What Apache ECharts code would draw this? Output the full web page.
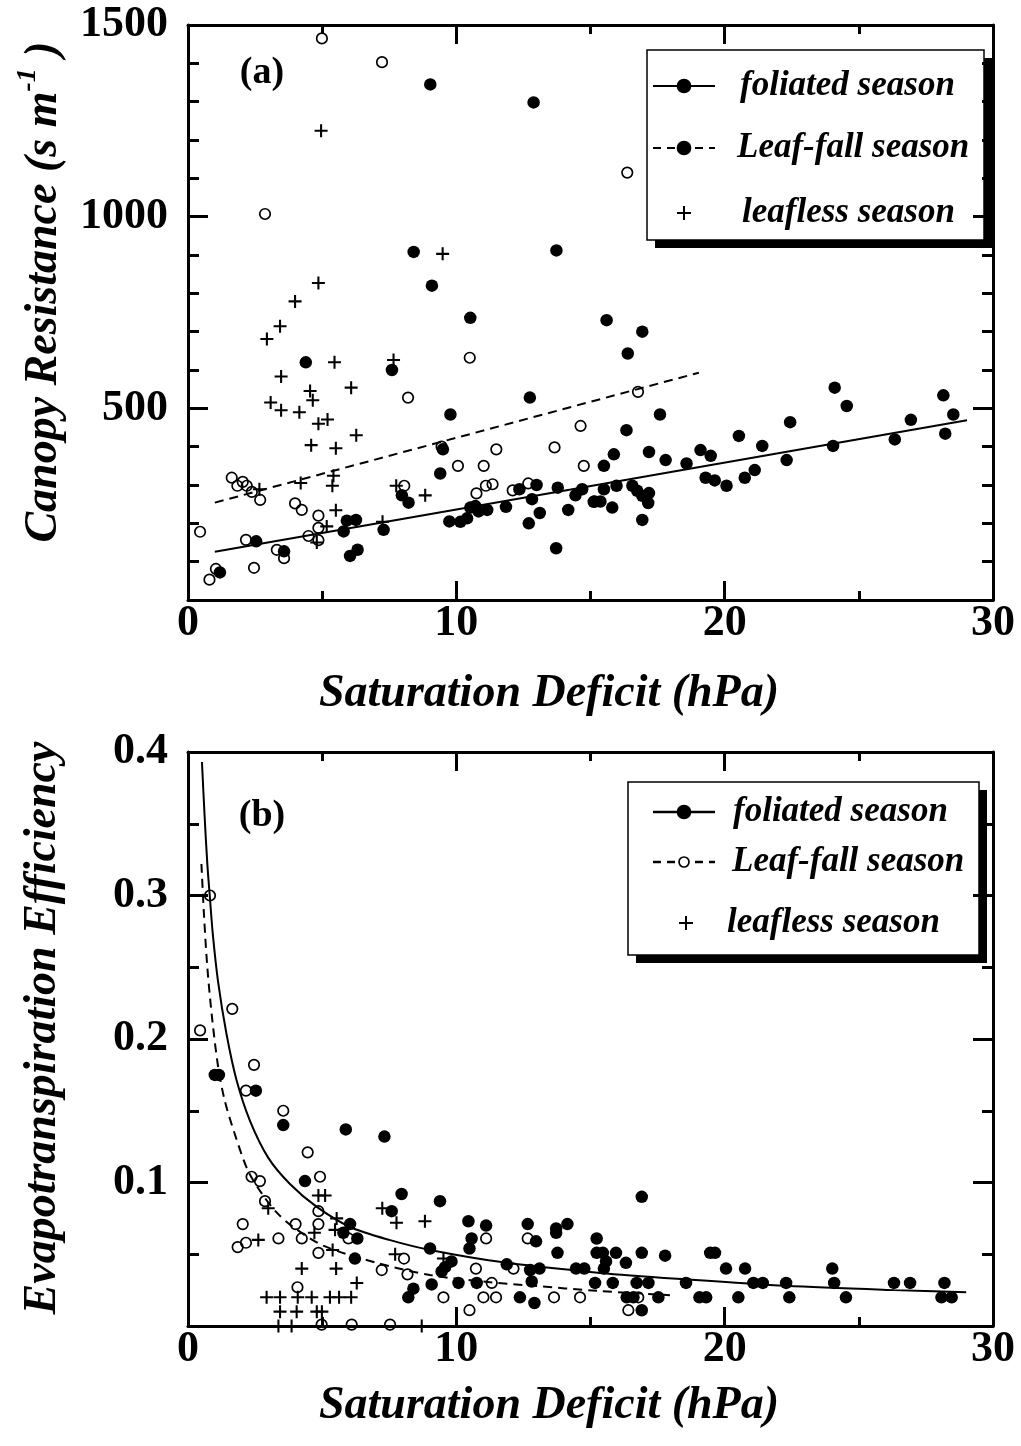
<!DOCTYPE html>
<html>
<head>
<meta charset="utf-8">
<script src="https://cdn.jsdelivr.net/npm/echarts@6/dist/echarts.min.js"></script>
<style>
html,body{margin:0;padding:0;background:#fff;}
#chart{width:1021px;height:1446px;}
</style>
</head>
<body>
<div id="chart"></div>
<script>
// ---------- Panel (a): Canopy resistance vs saturation deficit ----------
var foliatedA = [
 [9.03,1345],[8.41,908],[9.09,820],[10.52,736],[12.88,1298],[13.73,912],[15.60,730],[16.93,700],[16.39,643],
 [4.39,620],[7.60,600],[12.74,528],[9.78,484],[9.50,393],[9.40,330],[7.97,273],[8.22,254],[12.35,289],
 [12.99,300],[13.78,293],[14.69,289],[14.44,273],[12.82,263],[15.12,256],[10.71,245],[10.52,241],[11.15,235],
 [11.85,243],[14.17,235],[13.11,227],[10.83,231],[5.92,207],[6.26,209],[9.74,205],[10.15,204],[10.40,213],
 [12.70,200],[5.80,179],[7.29,183],[2.54,153],[3.58,127],[6.04,115],[6.32,131],[13.72,135],[1.19,72],
 [17.59,484],[16.34,443],[15.87,380],[15.50,350],[17.18,386],[17.80,365],[18.58,356],[19.10,391],[19.48,376],
 [20.53,428],[21.40,402],[22.44,464],[22.31,365],[19.29,319],[19.63,312],[20.07,298],[20.75,319],[21.12,339],
 [24.10,554],[24.55,506],[24.04,402],[26.34,419],[26.94,470],[28.15,534],[28.52,484],[28.22,434],[15.50,289],
 [15.97,298],[15.15,257],[15.37,257],[15.81,241],[16.56,298],[16.74,285],[16.93,272],[17.18,279],[17.15,253],
 [16.93,209]
];
var leafFallA = [
 [4.99,1465],[7.23,1403],[2.87,1007],[16.37,1115],[10.50,632],[8.20,528],[16.77,543],[14.63,454],[11.49,393],
 [13.66,398],[10.06,350],[11.02,350],[14.75,350],[1.63,319],[2.04,308],[1.84,298],[2.19,298],[2.38,282],
 [2.69,261],[8.06,298],[11.10,298],[11.35,302],[10.75,278],[12.10,286],[12.68,304],[3.99,252],[4.24,235],
 [4.86,220],[4.86,188],[4.49,167],[4.86,156],[0.45,178],[2.16,157],[3.31,131],[3.58,109],[2.46,84],
 [1.04,81],[0.80,53],[9.45,400]
];
var leaflessA = [
 [4.96,1224],[9.49,903],[4.86,827],[3.99,779],[3.43,714],[2.94,681],[5.46,620],[7.66,626],[3.47,583],
 [6.08,554],[4.55,545],[4.65,521],[3.08,515],[3.47,495],[4.15,490],[5.20,471],[4.86,460],[6.27,430],
 [4.59,404],[5.51,396],[5.42,324],[2.66,289],[4.20,305],[5.38,298],[7.76,298],[8.84,273],[5.51,234],
 [7.25,204],[5.17,192],[4.80,150]
];
var foliatedFitA = [[1.0,126],[29.03,469]];
var leafFallFitA = [[1.0,254],[19.04,593]];

// ---------- Panel (b): Evapotranspiration efficiency vs saturation deficit ----------
var foliatedB = [
 [1.0,0.175],[1.15,0.175],[2.53,0.164],[3.55,0.140],[5.88,0.137],[7.32,0.132],[4.36,0.101],[7.96,0.092],
 [9.39,0.087],[7.59,0.080],[6.04,0.071],[10.45,0.073],[11.11,0.070],[12.66,0.071],[13.72,0.068],[14.14,0.071],
 [5.79,0.065],[13.72,0.065],[6.31,0.061],[10.57,0.061],[12.97,0.059],[15.23,0.061],[10.49,0.054],[9.02,0.054],
 [13.77,0.051],[15.23,0.051],[6.22,0.047],[9.82,0.045],[9.58,0.041],[9.45,0.038],[11.88,0.043],[12.75,0.039],
 [13.10,0.040],[14.46,0.040],[14.77,0.040],[9.08,0.029],[10.08,0.030],[10.76,0.030],[12.81,0.031],[15.17,0.030],
 [8.40,0.026],[8.21,0.020],[12.37,0.020],[12.91,0.016],
 [16.91,0.090],[15.46,0.051],[15.95,0.051],[16.91,0.051],[17.78,0.049],[19.46,0.051],[19.64,0.051],[15.58,0.045],
 [16.32,0.044],[15.50,0.040],[20.05,0.040],[20.76,0.040],[24.01,0.040],[15.83,0.030],[16.72,0.030],[17.16,0.030],
 [18.56,0.030],[21.07,0.030],[21.42,0.030],[22.29,0.030],[24.08,0.030],[26.31,0.030],[26.91,0.030],[28.19,0.030],
 [16.35,0.020],[16.60,0.020],[17.53,0.020],[19.06,0.020],[19.31,0.020],[20.51,0.020],[22.41,0.020],[24.52,0.020],
 [28.08,0.020],[28.46,0.020],[16.91,0.011]
];
var leafFallB = [
 [0.82,0.300],[1.65,0.221],[0.45,0.206],[2.46,0.182],[2.16,0.164],[3.55,0.150],[4.46,0.121],[4.92,0.104],
 [2.37,0.104],[2.68,0.101],[2.87,0.087],[4.86,0.080],[2.04,0.071],[4.01,0.071],[4.86,0.071],[1.85,0.055],
 [2.16,0.058],[3.37,0.061],[4.24,0.061],[5.98,0.061],[11.11,0.061],[12.66,0.061],[4.86,0.051],[8.05,0.047],
 [10.73,0.040],[12.13,0.040],[7.22,0.039],[8.18,0.036],[11.32,0.030],[4.08,0.027],[9.52,0.020],[11.01,0.020],
 [11.48,0.020],[13.64,0.020],[14.61,0.020],[10.49,0.011],[4.98,0.001],[6.10,0.001],[7.53,0.001],[16.78,0.020],
 [16.41,0.011]
];
var leaflessB = [
 [2.99,0.082],[4.86,0.091],[5.11,0.091],[7.24,0.082],[7.77,0.072],[8.83,0.073],[5.54,0.075],[5.48,0.067],
 [4.71,0.065],[2.62,0.060],[5.39,0.053],[7.72,0.050],[9.52,0.047],[4.24,0.040],[5.52,0.040],[6.29,0.030],
 [2.93,0.020],[3.43,0.020],[4.09,0.020],[4.61,0.020],[5.29,0.020],[5.63,0.020],[6.08,0.020],[3.43,0.010],
 [4.05,0.010],[4.80,0.010],[4.99,0.010],[3.37,0.0],[3.86,0.0],[8.71,0.0]
];
var foliatedFitB = [[0.52,0.393],[0.62,0.355],[0.72,0.322],[0.81,0.300],[0.93,0.272],[1.12,0.240],[1.43,0.204],
 [1.80,0.172],[2.31,0.143],[3.00,0.117],[3.80,0.099],[4.80,0.083],[6.04,0.069],[7.50,0.060],[9.02,0.053],
 [11.88,0.044],[15.36,0.037],[18.56,0.0325],[22.29,0.0280],[26.31,0.0250],[29.0,0.0235]];
var leafFallFitB = [[0.50,0.322],[0.60,0.285],[0.72,0.250],[0.89,0.216],[1.12,0.181],[1.37,0.157],[1.74,0.134],
 [2.24,0.108],[2.80,0.091],[3.31,0.079],[3.92,0.069],[5.04,0.056],[7.03,0.044],[9.02,0.0355],[11.0,0.031],
 [12.88,0.0280],[15.23,0.0245],[17.96,0.0215]];

// ---------- tick / label settings ----------
var xTicks = {min:0, max:30, interval:10};
var yTicksA = {min:0, max:1500, interval:500, minorSplit:5};
var yTicksB = {min:0, max:0.4, interval:0.1, minorSplit:2};
var legendNames = ['foliated season','Leaf-fall season','leafless season'];

var SERIF = '"Liberation Serif","Times New Roman",serif';
var axisLineStyle = {color:'#000', width:3};

function xAxis(grid, pos, labels) {
  return {
    type:'value', gridIndex:grid, position:pos, min:xTicks.min, max:xTicks.max, interval:xTicks.interval,
    axisLine:{show:true, onZero:false, lineStyle:axisLineStyle},
    axisTick:{show:true, inside:true, length:19, lineStyle:{color:'#000', width:3}},
    minorTick:{show:true, splitNumber:2, length:9, lineStyle:{color:'#000', width:3}},
    splitLine:{show:false}, minorSplitLine:{show:false},
    axisLabel:{show:labels, color:'#000', fontFamily:SERIF, fontWeight:'bold', fontSize:44, margin:2}
  };
}
function yAxis(grid, pos, labels, t, dec) {
  return {
    type:'value', gridIndex:grid, position:pos, min:t.min, max:t.max, interval:t.interval,
    axisLine:{show:true, onZero:false, lineStyle:axisLineStyle},
    axisTick:{show:true, inside:true, length:20, lineStyle:{color:'#000', width:3}},
    minorTick:{show:true, splitNumber:t.minorSplit, length:11, lineStyle:{color:'#000', width:3}},
    splitLine:{show:false}, minorSplitLine:{show:false},
    axisLabel:{show:labels, color:'#000', fontFamily:SERIF, fontWeight:'bold', fontSize:44, margin:20,
      formatter:function(v){ return v === 0 ? '' : v.toFixed(dec); }}
  };
}

var PLUS = 'path://M4.2,0 L5.8,0 L5.8,4.2 L10,4.2 L10,5.8 L5.8,5.8 L5.8,10 L4.2,10 L4.2,5.8 L0,5.8 L0,4.2 L4.2,4.2 Z';

function filled(name, data, xi, yi) {
  return {name:name, type:'scatter', xAxisIndex:xi, yAxisIndex:yi, data:data, symbol:'circle', symbolSize:12.5,
    itemStyle:{color:'#000', opacity:1}, z:3};
}
function open(name, data, xi, yi) {
  return {name:name, type:'scatter', xAxisIndex:xi, yAxisIndex:yi, data:data, symbol:'circle', symbolSize:10.5,
    itemStyle:{color:'rgba(0,0,0,0)', borderColor:'#000', borderWidth:1.7, opacity:1}, z:4};
}
function plus(name, data, xi, yi) {
  return {name:name, type:'scatter', xAxisIndex:xi, yAxisIndex:yi, data:data, symbol:PLUS, symbolSize:13,
    itemStyle:{color:'#000', opacity:1}, z:4};
}
function fit(name, data, xi, yi, dashed, smooth) {
  return {name:name, type:'line', xAxisIndex:xi, yAxisIndex:yi, data:data, showSymbol:false, symbol:'none',
    smooth:smooth ? 0.3 : false, clip:true,
    lineStyle:{color:'#000', width:2, type: dashed ? [9,6] : 'solid'}, z:2};
}

// ---------- legend / text graphics ----------
function legendBox(x, y, w, h, entries, lineW, secondOpen) {
  var els = [
    {type:'rect', shape:{x:x+8, y:y+8, width:w, height:h}, style:{fill:'#000'}},
    {type:'rect', shape:{x:x, y:y, width:w, height:h}, style:{fill:'#fff', stroke:'#000', lineWidth:1.5}}
  ];
  entries.forEach(function(e, i){
    if (i < 2) {
      els.push({type:'line', shape:{x1:e.lx, y1:e.ly, x2:e.lx+62, y2:e.ly},
        style:{stroke:'#000', lineWidth:lineW, lineDash: i===1 ? [8,6] : null}});
      var isOpen = (i===1 && secondOpen);
      els.push({type:'circle', shape:{cx:e.lx+31, cy:e.ly, r: isOpen ? 5 : 6.5},
        style:{fill: isOpen ? '#fff' : '#000', stroke:'#000', lineWidth:1.7}});
    } else {
      els.push({type:'line', shape:{x1:e.lx-7, y1:e.ly, x2:e.lx+7, y2:e.ly}, style:{stroke:'#000', lineWidth:2}});
      els.push({type:'line', shape:{x1:e.lx, y1:e.ly-7, x2:e.lx, y2:e.ly+7}, style:{stroke:'#000', lineWidth:2}});
    }
    els.push({type:'text', x:e.tx, y:e.ly, style:{text:legendNames[i], fill:'#000',
      font:'italic bold 35px ' + SERIF, textAlign:'left', textVerticalAlign:'middle', align:'left', verticalAlign:'middle'}});
  });
  return {type:'group', z:100, children:els};
}

function label(text, x, y, size, italic, rot) {
  return {type:'text', x:x, y:y, rotation:rot||0, z:100, style:{text:text, fill:'#000',
    font:(italic?'italic ':'') + 'bold ' + size + 'px ' + SERIF,
    textAlign:'center', textVerticalAlign:'middle', align:'center', verticalAlign:'middle'}};
}

var canopyTitle = {type:'text', x:44, y:292, rotation:Math.PI/2, z:100, style:{
  text:'{m|Canopy Resistance (s m}{s|-1}{m| )}', fill:'#000',
  textAlign:'center', textVerticalAlign:'middle', align:'center', verticalAlign:'middle',
  rich:{
    m:{font:'italic bold 46px ' + SERIF, fill:'#000', lineHeight:60, verticalAlign:'middle'},
    s:{font:'italic bold 28px ' + SERIF, fill:'#000', lineHeight:30, verticalAlign:'top'}
  }}};

var chart = echarts.init(document.getElementById('chart'), null, {renderer:'canvas'});
chart.setOption({
  animation:false,
  backgroundColor:'#fff',
  grid:[
    {left:188, top:25, width:805, height:575},
    {left:188, top:752, width:805, height:574}
  ],
  xAxis:[ xAxis(0,'bottom',true), xAxis(0,'top',false), xAxis(1,'bottom',true), xAxis(1,'top',false) ],
  yAxis:[ yAxis(0,'left',true,yTicksA,0), yAxis(0,'right',false,yTicksA,0),
          yAxis(1,'left',true,yTicksB,1), yAxis(1,'right',false,yTicksB,1) ],
  series:[
    fit(legendNames[0], foliatedFitA, 0, 0, false, false),
    fit(legendNames[1], leafFallFitA, 0, 0, true, false),
    open(legendNames[1], leafFallA, 0, 0),
    filled(legendNames[0], foliatedA, 0, 0),
    plus(legendNames[2], leaflessA, 0, 0),
    fit(legendNames[0], foliatedFitB, 2, 2, false, true),
    fit(legendNames[1], leafFallFitB, 2, 2, true, true),
    open(legendNames[1], leafFallB, 2, 2),
    filled(legendNames[0], foliatedB, 2, 2),
    plus(legendNames[2], leaflessB, 2, 2)
  ],
  graphic:[
    label('(a)', 262, 73, 38, false),
    label('(b)', 262, 816, 38, false),
    label('Saturation Deficit (hPa)', 549, 694, 46, true),
    label('Saturation Deficit (hPa)', 549, 1406, 46, true),
    canopyTitle,
    label('Evapotranspiration Efficiency', 43, 1028, 46, true, Math.PI/2),
    legendBox(647, 50, 337, 190, [
      {lx:653, ly:86, tx:740}, {lx:653, ly:148, tx:737}, {lx:684, ly:213, tx:742}
    ], 2, false),
    legendBox(628, 782, 351, 173, [
      {lx:653, ly:812, tx:733}, {lx:653, ly:862, tx:732}, {lx:686, ly:923, tx:727}
    ], 2.5, true)
  ]
});
</script>
</body>
</html>
